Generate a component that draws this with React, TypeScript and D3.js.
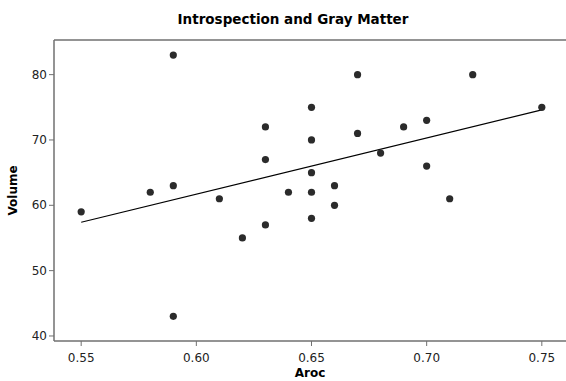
import React from "react";
import * as d3 from "d3";

const aroc = [0.55, 0.59, 0.58, 0.59, 0.61, 0.62, 0.63, 0.63, 0.63, 0.64, 0.59, 0.65, 0.65, 0.65, 0.65, 0.65, 0.66, 0.66, 0.67, 0.67, 0.68, 0.69, 0.70, 0.70, 0.71, 0.72, 0.75];
const volume = [59, 83, 62, 63, 61, 55, 72, 67, 57, 62, 43, 75, 70, 65, 62, 58, 63, 60, 80, 71, 68, 72, 73, 66, 61, 80, 75];
const xTicks = [0.55, 0.6, 0.65, 0.7, 0.75];
const yTicks = [40, 50, 60, 70, 80];
const fitIntercept = 10.1;
const fitSlope = 86.0;
const fitRange = [0.55, 0.75];

const W = 566;
const H = 381;
const M = { left: 54, right: 0, top: 40, bottom: 40 };

export default function App() {
  const x = d3.scaleLinear().domain([0.5382, 0.7605]).range([M.left, W - M.right]);
  const y = d3.scaleLinear().domain([39.23, 85.3]).range([H - M.bottom, M.top]);
  const fmtX = d3.format(".2f");
  const line = d3.line<number>().x((d) => x(d)).y((d) => y(fitIntercept + fitSlope * d));
  const axisColor = "#707070";
  const font = "DejaVu Sans, Verdana, sans-serif";
  const x0 = M.left;
  const yb = H - M.bottom;
  return (
    <svg width={W} height={H} style={{ position: "absolute", left: 0, top: 0, background: "#fff" }}>
      <text x={293} y={24} textAnchor="middle" fontFamily={font} fontWeight="bold" fontSize={13.5} fill="#000">
        Introspection and Gray Matter
      </text>
      {/* frame */}
      <line x1={x0} x2={W} y1={M.top} y2={M.top} stroke={axisColor} strokeWidth={1.5} />
      <line x1={x0} x2={x0} y1={M.top} y2={yb} stroke={axisColor} strokeWidth={1.5} />
      <line x1={x0} x2={W} y1={yb} y2={yb} stroke={axisColor} strokeWidth={1.5} />
      {xTicks.map((t) => (
        <g key={"x" + t}>
          <line x1={x(t)} x2={x(t)} y1={yb} y2={yb + 5} stroke={axisColor} strokeWidth={1} />
          <text x={x(t)} y={yb + 21} textAnchor="middle" fontFamily={font} fontSize={12} fill="#222">
            {fmtX(t)}
          </text>
        </g>
      ))}
      {yTicks.map((t) => (
        <g key={"y" + t}>
          <line x1={x0 - 5} x2={x0} y1={y(t)} y2={y(t)} stroke={axisColor} strokeWidth={1} />
          <text x={x0 - 7} y={y(t)} dy="0.35em" textAnchor="end" fontFamily={font} fontSize={12} fill="#222">
            {t}
          </text>
        </g>
      ))}
      <text x={310} y={377} textAnchor="middle" fontFamily={font} fontWeight="bold" fontSize={12} fill="#000">
        Aroc
      </text>
      <text transform={`translate(17, ${(M.top + yb) / 2}) rotate(-90)`} textAnchor="middle" fontFamily={font} fontWeight="bold" fontSize={12} fill="#000">
        Volume
      </text>
      <path d={line(fitRange) || ""} fill="none" stroke="#000" strokeWidth={1.2} />
      {aroc.map((a, i) => (
        <circle key={i} cx={x(a)} cy={y(volume[i])} r={3.6} fill="#2b2b2b" />
      ))}
    </svg>
  );
}
